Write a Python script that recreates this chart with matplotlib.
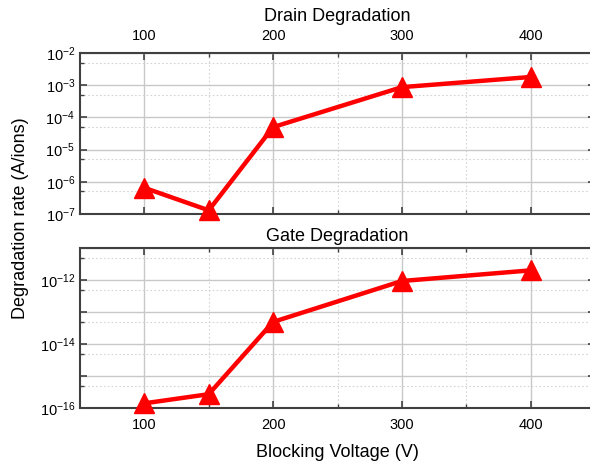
import numpy as np
import matplotlib
matplotlib.use("Agg")
import matplotlib.pyplot as plt
from matplotlib.ticker import FixedLocator, NullFormatter

plt.rcParams["font.family"] = ["Liberation Sans", "DejaVu Sans"]
plt.rcParams["mathtext.fontset"] = "custom"
plt.rcParams["mathtext.rm"] = "Liberation Sans"
plt.rcParams["mathtext.it"] = "Liberation Sans:italic"

voltage = [100, 150, 200, 300, 400]
drain_rate = [6.5e-7, 1.3e-7, 5e-5, 8.7e-4, 1.8e-3]
gate_rate = [1.4e-16, 2.7e-16, 4.9e-14, 9.3e-13, 2.0e-12]

RED = "#ff0000"
SPINE = "#404040"


def style_axis(ax, decades, labelled, label_top):
    ax.set_yscale("log")
    ax.set_xlim(50, 450)
    ax.set_ylim(10.0 ** decades[0], 10.0 ** decades[-1])
    ticks = [10.0 ** d for d in decades]
    labels = [r"$\mathdefault{10^{%d}}$" % d if d in labelled else "" for d in decades]
    ax.set_yticks(ticks, labels)
    ax.yaxis.set_minor_locator(FixedLocator([5 * 10.0 ** d for d in decades[:-1]]))
    ax.yaxis.set_minor_formatter(NullFormatter())
    ax.set_xticks([100, 200, 300, 400])
    ax.set_xticks([150, 250, 350], minor=True)
    ax.tick_params(which="both", direction="in", top=True, right=True,
                   labeltop=label_top, labelbottom=not label_top,
                   colors=SPINE, labelcolor="black", labelsize=10.5)
    ax.tick_params(which="major", length=5, width=1.2)
    ax.tick_params(which="minor", length=3, width=1.0)
    ax.tick_params(axis="x", which="major", pad=7)
    for s in ax.spines.values():
        s.set_color(SPINE)
        s.set_linewidth(1.5)
    ax.grid(which="major", color="#c8c8c8", linewidth=1.0)
    ax.grid(which="minor", color="#d4d4d4", linewidth=0.8, linestyle=(0, (1.5, 2)))
    ax.set_axisbelow(True)


fig = plt.figure(figsize=(5.9, 4.65), dpi=100)
ax1 = fig.add_axes([80 / 590, 1 - 214 / 465, 515 / 590, 161 / 465])
ax2 = fig.add_axes([80 / 590, 1 - 408 / 465, 515 / 590, 160 / 465])

ax1.plot(voltage, drain_rate, color=RED, linewidth=3.2, marker="^",
         markersize=14, clip_on=False, zorder=5)
ax2.plot(voltage, gate_rate, color=RED, linewidth=3.2, marker="^",
         markersize=14, clip_on=False, zorder=5)

style_axis(ax1, list(range(-7, -1)), list(range(-7, -1)), True)
style_axis(ax2, list(range(-16, -10)), [-16, -14, -12], False)

ax1.set_title("Drain Degradation", fontsize=13, pad=6)
ax2.set_title("Gate Degradation", fontsize=13, pad=5)
ax2.set_xlabel("Blocking Voltage (V)", fontsize=13, labelpad=9)
fig.text(21 / 590, 1 - 218 / 465, "Degradation rate (A/ions)", rotation=90,
         fontsize=13, ha="center", va="center")

fig.savefig("out.png", dpi=100)
